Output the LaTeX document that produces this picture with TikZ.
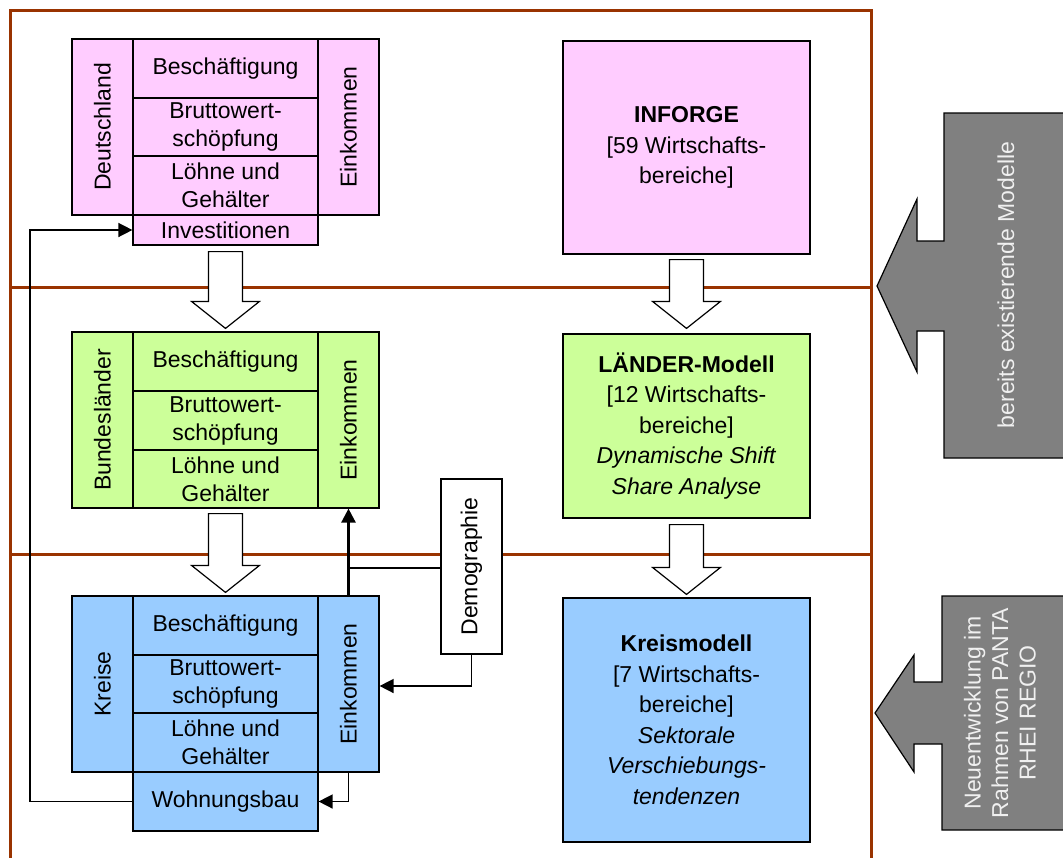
\documentclass[tikz,border=0pt]{standalone}
\usepackage{fontspec}
\setmainfont{Liberation Sans}
\usepackage{graphicx}
\usetikzlibrary{arrows.meta,calc}
\definecolor{framebrown}{HTML}{993300}
\definecolor{lpink}{HTML}{FFCCFF}
\definecolor{lgreen}{HTML}{CCFF99}
\definecolor{lblue}{HTML}{99CCFF}
\definecolor{dgray}{HTML}{808080}
\newcommand\cellnode[7]{\node[cell,#6,minimum width={(#4-#2)*1pt},minimum height={(#5-#3)*1pt}] (#1) at ({(#2+#4)/2},{(#3+#5)/2}) {#7};}
\newcommand\hollowarrow[2]{\draw[harrow] let \p1=(#1), \p2=(#2) in (\x2-17pt,\y1) -- (\x2-17pt,\y2+27pt) -- (\x2-34pt,\y2+27pt) -- (\x2,\y2) -- (\x2+34pt,\y2+27pt) -- (\x2+17pt,\y2+27pt) -- (\x2+17pt,\y1) -- cycle;}
\tikzset{
  cell/.style={draw=black,line width=1.2pt,inner sep=0pt,align=center,font=\fontsize{23}{28}\selectfont},
  bigcell/.style={font=\fontsize{23}{30.5}\selectfont},
  frameline/.style={draw=framebrown,line width=3pt},
  harrow/.style={draw=black,fill=white,line width=1.2pt,line join=miter},
  grayarrow/.style={draw=black,fill=dgray,line width=1.2pt,line join=miter},
  graytext/.style={text=white!94!black,rotate=90,align=center,font=\fontsize{23}{27.5}\selectfont},
  conn/.style={draw=black,line width=1.5pt},
  thickconn/.style={draw=black,line width=2.6pt},
  tip/.style={-{Triangle[length=14pt,width=14pt]}}
}
\begin{document}
\begin{tikzpicture}[x=1pt,y=-1pt]
\clip (0,0) rectangle (1063,857);
\fill[white] (0,0) rectangle (1063,857);
% frame
\draw[frameline] (10,870) -- (10,10) -- (871,10) -- (871,870);
\draw[frameline] (10,287) -- (871,287);
\draw[frameline] (10,554) -- (871,554);
% gray side arrows
\draw[grayarrow] (1070,113) -- (944,113) -- (944,241) -- (917,241) -- (917,199) -- (877,286) -- (917,372) -- (917,331) -- (944,331) -- (944,458) -- (1070,458) -- cycle;
\node[graytext] (txtA) at (1006,285) {bereits existierende Modelle};
\draw[grayarrow] (1070,596) -- (942,596) -- (942,682) -- (914,682) -- (914,655) -- (875,713) -- (914,772) -- (914,744) -- (942,744) -- (942,830) -- (1070,830) -- cycle;
\node[graytext] (txtB) at (1000,713) {Neuentwicklung im\\Rahmen von PANTA\\RHEI REGIO};
% Deutschland
\cellnode{Dl}{72}{39}{133}{215}{fill=lpink}{\rotatebox{90}{Deutschland}}
\cellnode{Db1}{133}{39}{318}{98}{fill=lpink}{Beschäftigung}
\cellnode{Db2}{133}{98}{318}{156}{fill=lpink}{Bruttowert-\\schöpfung}
\cellnode{Db3}{133}{156}{318}{215}{fill=lpink}{Löhne und\\Gehälter}
\cellnode{Dr}{318}{39}{379}{215}{fill=lpink}{\rotatebox{90}{Einkommen}}
\cellnode{Dinv}{133}{215}{318}{245}{fill=lpink}{Investitionen}
% Bundeslaender
\cellnode{Bl}{72}{332}{133}{508}{fill=lgreen}{\rotatebox{90}{Bundesländer}}
\cellnode{Bb1}{133}{332}{318}{391}{fill=lgreen}{Beschäftigung}
\cellnode{Bb2}{133}{391}{318}{450}{fill=lgreen}{Bruttowert-\\schöpfung}
\cellnode{Bb3}{133}{450}{318}{508}{fill=lgreen}{Löhne und\\Gehälter}
\cellnode{Br}{318}{332}{379}{508}{fill=lgreen}{\rotatebox{90}{Einkommen}}
% Kreise
\cellnode{Kl}{72}{596}{133}{772}{fill=lblue}{\rotatebox{90}{Kreise}}
\cellnode{Kb1}{133}{596}{318}{655}{fill=lblue}{Beschäftigung}
\cellnode{Kb2}{133}{655}{318}{713}{fill=lblue}{Bruttowert-\\schöpfung}
\cellnode{Kb3}{133}{713}{318}{772}{fill=lblue}{Löhne und\\Gehälter}
\cellnode{Kr}{318}{596}{379}{772}{fill=lblue}{\rotatebox{90}{Einkommen}}
\cellnode{Kw}{133}{772}{318}{831}{fill=lblue}{Wohnungsbau}
% Demographie
\cellnode{Demo}{441}{479}{502}{654}{fill=white}{\rotatebox{90}{Demographie}}
% right column
\cellnode{Inf}{563}{41}{810}{254}{fill=lpink,bigcell}{\textbf{INFORGE}\\{[}59 Wirtschafts-\\bereiche]}
\cellnode{Land}{563}{334}{810}{518}{fill=lgreen,bigcell}{\textbf{LÄNDER-Modell}\\{[}12 Wirtschafts-\\bereiche]\\\textit{Dynamische Shift}\\\textit{Share Analyse}}
\cellnode{Kreis}{563}{598}{810}{842}{fill=lblue,bigcell}{\textbf{Kreismodell}\\{[}7 Wirtschafts-\\bereiche]\\\textit{Sektorale}\\\textit{Verschiebungs-}\\\textit{tendenzen}}
% hollow block arrows
\hollowarrow{$(Dinv.south)+(0,6)$}{$(Bb1.north)+(0,-3)$}
\hollowarrow{$(Bb3.south)+(0,5)$}{$(Kb1.north)+(0,-3)$}
\hollowarrow{$(Inf.south)+(0,5)$}{$(Land.north)+(0,-5)$}
\hollowarrow{$(Land.south)+(0,6)$}{$(Kreis.north)+(0,-3)$}
% connectors
\coordinate (loop) at (30,500);
\coordinate (demoW) at ($(Demo.west)+(0,1.5)$);
\draw[conn,tip] (Kw.west) -- (Kw.west -| loop) |- (Dinv.west);
\draw[conn,tip] (Demo.south) |- ($(Kr.east)+(0,2)$);
\draw[conn,tip] (Kr.south) |- (Kw.east);
\draw[conn] (demoW) -- (demoW -| Kr.north);
\draw[thickconn,tip] (Kr.north) -- (Br.south);
\end{tikzpicture}
\end{document}
